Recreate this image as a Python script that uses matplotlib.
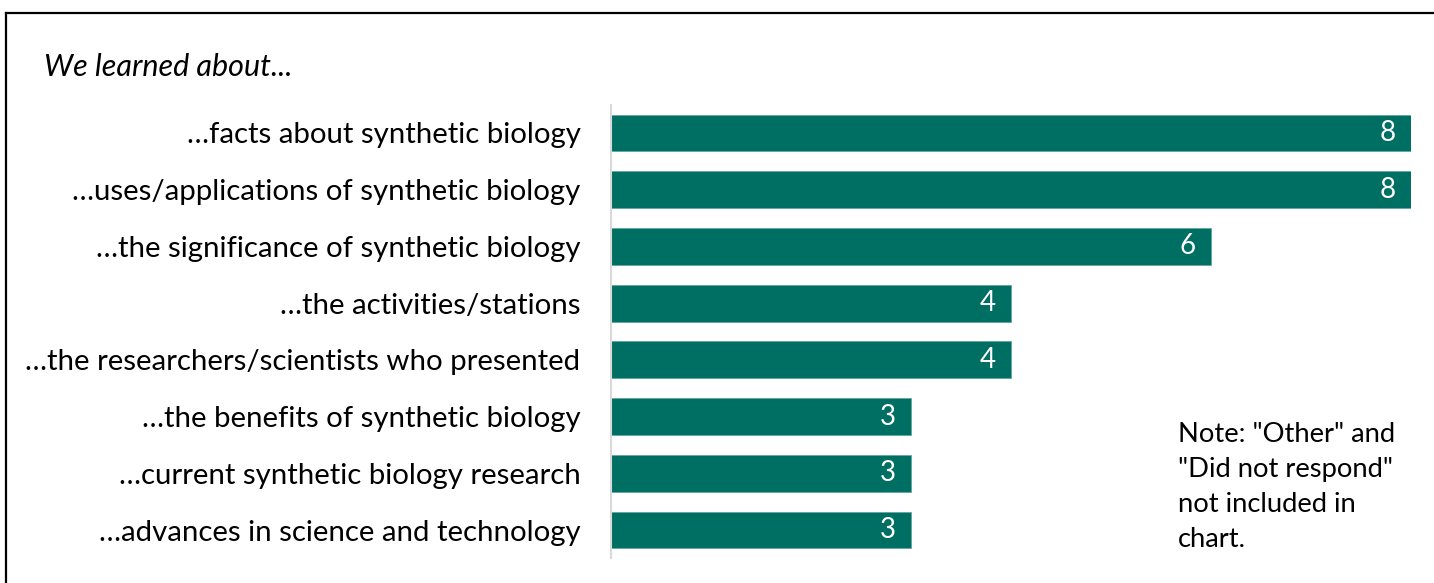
import matplotlib.pyplot as plt
from matplotlib.lines import Line2D

# データ
categories = [
    "…facts about synthetic biology",
    "…uses/applications of synthetic biology",
    "…the significance of synthetic biology",
    "…the activities/stations",
    "…the researchers/scientists who presented",
    "…the benefits of synthetic biology",
    "…current synthetic biology research",
    "…advances in science and technology",
]
counts = [8, 8, 6, 4, 4, 3, 3, 3]
title_text = "We learned about..."
note_text = 'Note: "Other" and\n"Did not respond"\nnot included in\nchart.'

bar_color = "#006F63"
plt.rcParams['font.family'] = ['Lato', 'DejaVu Sans']

fig = plt.figure(figsize=(14.34, 5.83), dpi=100)
ax = fig.add_axes([611 / 1434, 0.0422, 800 / 1434, 0.7784])

y_pos = list(range(len(categories)))
ax.barh(y_pos, counts, height=0.65, color=bar_color, edgecolor="#5FA39A", linewidth=0.5)

# 數值標籤 (白色, 右對齊)
for y, v in zip(y_pos, counts):
    ax.annotate(str(v), xy=(v, y), xytext=(-11, 0), textcoords="offset points",
                ha="right", va="center", color="white", fontsize=20)

ax.set_xlim(0, 8)
ax.set_ylim(len(categories) - 0.5, -0.5)
ax.set_yticks(y_pos)
ax.set_yticklabels(categories, fontsize=21.2)
ax.tick_params(axis="y", length=0, pad=22)
ax.set_xticks([])
for s in ["top", "right", "bottom"]:
    ax.spines[s].set_visible(False)
ax.spines["left"].set_color("#D9D9D9")
ax.spines["left"].set_linewidth(1.5)

# 標題與註解
fig.text(44 / 1434, 1 - 67 / 583, title_text, fontsize=22, style="italic",
         ha="left", va="center")
fig.text(1178 / 1434, 1 - 422 / 583, note_text, fontsize=19.7, ha="left", va="top",
         linespacing=1.5)

# 外框
fig.add_artist(Line2D([6.5 / 1434, 1], [1 - 12.5 / 583, 1 - 12.5 / 583],
                      transform=fig.transFigure, color="black", linewidth=1.6))
fig.add_artist(Line2D([6.5 / 1434, 6.5 / 1434], [0, 1 - 12.5 / 583],
                      transform=fig.transFigure, color="black", linewidth=1.6))

plt.savefig("out.png", dpi=100)
plt.close(fig)
